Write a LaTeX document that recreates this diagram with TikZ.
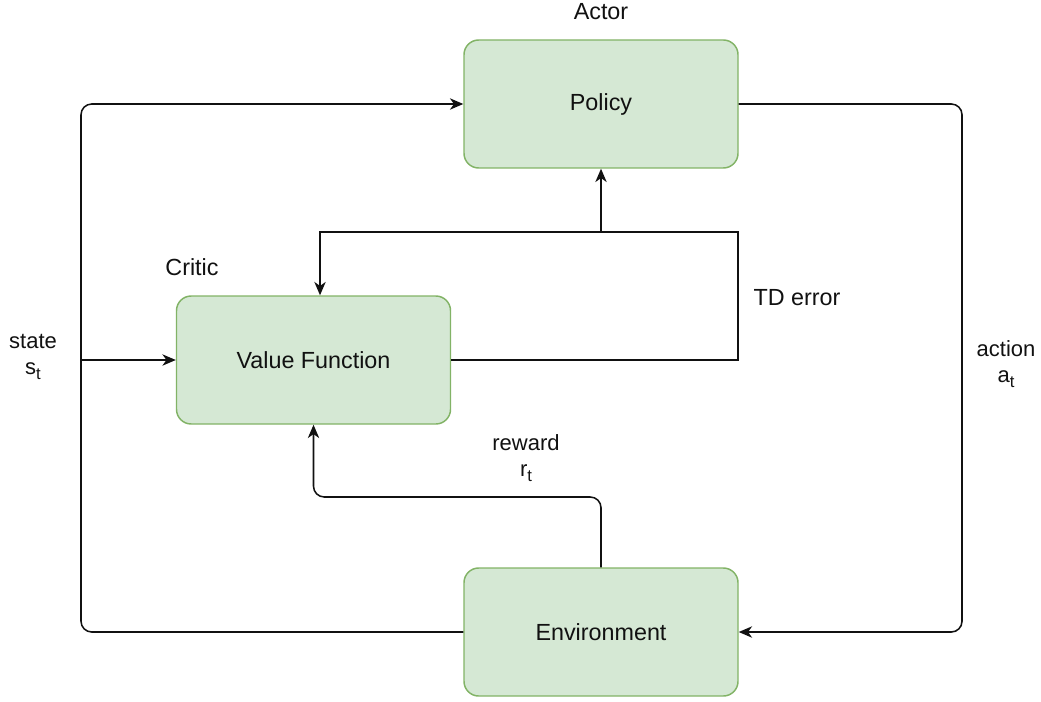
\documentclass[tikz,border=0pt]{standalone}
\usepackage{fontspec}
\setmainfont{Liberation Sans}
\usetikzlibrary{arrows.meta}
\definecolor{boxfill}{HTML}{D5E8D4}
\definecolor{boxline}{HTML}{82B366}
\definecolor{ink}{HTML}{111111}
\newcommand{\lowsub}[1]{\raisebox{-0.45ex}{\fontsize{12.5}{13}\selectfont #1}}
\tikzset{
  block/.style={draw=boxline, fill=boxfill, rounded corners=11pt, line width=1.1pt,
    minimum width=205.5pt, minimum height=96pt, font=\fontsize{17.5}{21}\selectfont, text=ink},
  wire/.style={draw=ink, line width=1.15pt},
  tip/.style={-{Stealth[length=10pt,width=8.5pt,inset=3pt]}},
  roundpath/.style={rounded corners=8pt},
  lbl/.style={font=\fontsize{16.5}{19.5}\selectfont, text=ink, align=center, inner sep=0pt},
  head/.style={font=\fontsize{17.5}{21}\selectfont, text=ink, inner sep=0pt},
}
\begin{document}
\begin{tikzpicture}[x=0.75pt,y=-0.75pt]
\useasboundingbox (0,0) rectangle (1041,702);

% blocks
\node[block] (policy) at (601,104) {Policy};
\node[block] (value) at (313.5,360) {Value Function};
\node[block] (env) at (601,632) {Environment};

% titles and labels
\node[head] (actor) at (601,12) {Actor};
\node[head] (critic) at (192,267) {Critic};
\node[head] (tderr) at (797,298) {TD error};
\node[lbl] (state) at (33,357) {state\\s\lowsub{t}};
\node[lbl] (action) at (1006,364) {action\\a\lowsub{t}};
\node[lbl] (reward) at (526,458) {reward\\r\lowsub{t}};

% routing points
\coordinate (sl) at (81,632);
\coordinate (tl) at (81,104);
\coordinate (sj) at (81,360);
\coordinate (tr) at (962,104);
\coordinate (br) at (962,632);
\coordinate (td1) at (738,360);
\coordinate (td2) at (738,232);
\coordinate (td3) at (601,232);
\coordinate (td4) at (320,232);
\coordinate (rw1) at (601,497);
\coordinate (rw2) at (313.5,497);

% state loop: environment -> policy
\draw[wire,tip,roundpath] (env.west) -- (sl) -- (tl) -- (policy.west);
% state into the critic
\draw[wire,tip] (sj) -- (value.west);
% action: policy -> environment
\draw[wire,tip,roundpath] (policy.east) -- (tr) -- (br) -- (env.east);
% TD error feedback
\draw[wire,tip] (value.east) -- (td1) -- (td2) -- (td4) -- (td4 |- value.north);
\draw[wire,tip] (td3) -- (policy.south);
% reward: environment -> critic
\draw[wire,tip,roundpath] (env.north) -- (rw1) -- (rw2) -- (value.south);
\end{tikzpicture}
\end{document}
